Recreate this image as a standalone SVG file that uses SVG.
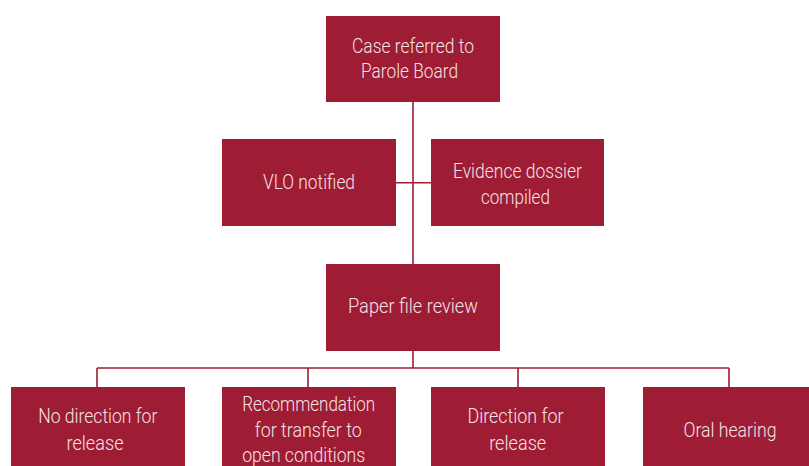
<svg xmlns="http://www.w3.org/2000/svg" width="809" height="466" viewBox="0 0 809 466">
<style>
.box{fill:#9E1C34}
.t{font-family:Roboto,"Liberation Sans",sans-serif;font-size:20px;font-weight:300;fill:#F4E3E6;text-anchor:middle}
.c{stroke:#9E1C34;stroke-width:1.6;fill:none}
</style>
<rect width="809" height="466" fill="#ffffff"/>
<g id="connectors">
<path class="c" d="M413 102V264M396 182.7H431M413 351V368M97 368H729M97 368V387M308 368V387M518 368V387M729 368V387"/>
</g>
<g id="n1"><rect class="box" x="326" y="16" width="174" height="86"/>
<text class="t" x="413" y="52.7" textLength="122" lengthAdjust="spacingAndGlyphs">Case referred to</text>
<text class="t" x="409.5" y="78.3" textLength="97" lengthAdjust="spacingAndGlyphs">Parole Board</text></g>
<g id="n2"><rect class="box" x="222" y="139" width="174" height="87"/>
<text class="t" x="309" y="189" textLength="92" lengthAdjust="spacingAndGlyphs">VLO notified</text></g>
<g id="n3"><rect class="box" x="431" y="139" width="173" height="87"/>
<text class="t" x="517.4" y="177.7" textLength="129" lengthAdjust="spacingAndGlyphs">Evidence dossier</text>
<text class="t" x="515.4" y="204" textLength="69" lengthAdjust="spacingAndGlyphs">compiled</text></g>
<g id="n4"><rect class="box" x="326" y="264" width="174" height="87"/>
<text class="t" x="413" y="313" textLength="130" lengthAdjust="spacingAndGlyphs">Paper file review</text></g>
<g id="n5"><rect class="box" x="11" y="387" width="174" height="87"/>
<text class="t" x="97.8" y="423.3" textLength="119" lengthAdjust="spacingAndGlyphs">No direction for</text>
<text class="t" x="95" y="450" textLength="57" lengthAdjust="spacingAndGlyphs">release</text></g>
<g id="n6"><rect class="box" x="222" y="387" width="174" height="87"/>
<text class="t" x="308.7" y="411" textLength="133" lengthAdjust="spacingAndGlyphs">Recommendation</text>
<text class="t" x="308.3" y="436.7" textLength="107" lengthAdjust="spacingAndGlyphs">for transfer to</text>
<text class="t" x="303.7" y="462.3" textLength="123" lengthAdjust="spacingAndGlyphs">open conditions</text></g>
<g id="n7"><rect class="box" x="431" y="387" width="174" height="87"/>
<text class="t" x="515.5" y="423.3" textLength="96" lengthAdjust="spacingAndGlyphs">Direction for</text>
<text class="t" x="517.7" y="450" textLength="57" lengthAdjust="spacingAndGlyphs">release</text></g>
<g id="n8"><rect class="box" x="643" y="387" width="166" height="87"/>
<text class="t" x="730" y="437" textLength="93" lengthAdjust="spacingAndGlyphs">Oral hearing</text></g>
</svg>
